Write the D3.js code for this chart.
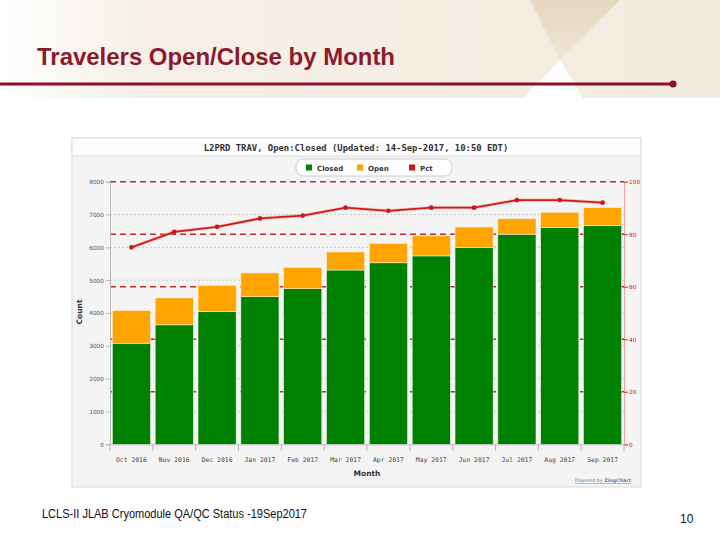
<!DOCTYPE html>
<html>
<head>
<meta charset="utf-8">
<script src="https://cdn.jsdelivr.net/npm/d3@7/dist/d3.min.js"></script>
<style>
html,body{margin:0;padding:0;background:#fff;}
svg{display:block;}
</style>
</head>
<body>
<svg id="c" width="720" height="540"></svg>
<script>
// ---- data ----
const months = ["Oct 2016","Nov 2016","Dec 2016","Jan 2017","Feb 2017","Mar 2017","Apr 2017","May 2017","Jun 2017","Jul 2017","Aug 2017","Sep 2017"];
const closed = [3080, 3640, 4040, 4500, 4740, 5310, 5530, 5740, 6000, 6400, 6610, 6660];
const open   = [1000,  820,  800,  720,  650,  550,  590,  610,  620,  470,  460,  550];
const pct    = [75.0, 80.9, 82.8, 86.0, 87.1, 90.1, 88.9, 90.1, 90.1, 93.0, 93.0, 92.0];
const countTicks = [0,1000,2000,3000,4000,5000,6000,7000,8000];
const pctTicks = [0,20,40,60,80,100];

const svg = d3.select("#c");
const defs = svg.append("defs");

// ---- slide decoration ----
const g1 = defs.append("linearGradient").attr("id","band").attr("x1","0").attr("x2","1").attr("y1","0").attr("y2","0");
g1.append("stop").attr("offset","0").attr("stop-color","#ffffff");
g1.append("stop").attr("offset","0.2").attr("stop-color","#f5efe6");
g1.append("stop").attr("offset","1").attr("stop-color","#f3ebdf");
const g2 = defs.append("linearGradient").attr("id","wedge").attr("x1","0").attr("x2","0").attr("y1","0").attr("y2","1");
g2.append("stop").attr("offset","0").attr("stop-color","#e6d8c0");
g2.append("stop").attr("offset","1").attr("stop-color","#efe5d6");

svg.append("rect").attr("x",0).attr("y",0).attr("width",720).attr("height",98).attr("fill","url(#band)");
svg.append("path").attr("d","M530,0 L620,0 L560,60 Z").attr("fill","url(#wedge)");
svg.append("path").attr("d","M560,60 L523,98 L583,98 Z").attr("fill","#ffffff");

svg.append("text").attr("x",37).attr("y",65)
  .attr("font-family","'Liberation Sans Narrow', 'Liberation Sans', Arial, sans-serif").attr("font-weight","bold")
  .attr("font-size",24).attr("fill","#8b1a2c")
  .attr("textLength",358).attr("lengthAdjust","spacingAndGlyphs")
  .text("Travelers Open/Close by Month");

svg.append("line").attr("x1",0).attr("x2",673).attr("y1",84).attr("y2",84)
  .attr("stroke","#8b0f27").attr("stroke-width",3);
svg.append("circle").attr("cx",673).attr("cy",84).attr("r",3.6).attr("fill","#8b0f27");

// footer
svg.append("text").attr("x",42).attr("y",518)
  .attr("font-family","'Liberation Sans Narrow', 'Liberation Sans', Arial, sans-serif")
  .attr("font-size",12).attr("fill","#111")
  .attr("textLength",265).attr("lengthAdjust","spacingAndGlyphs")
  .text("LCLS-II JLAB Cryomodule QA/QC Status -19Sep2017");
svg.append("text").attr("x",680).attr("y",523)
  .attr("font-family","'Liberation Sans Narrow', 'Liberation Sans', Arial, sans-serif")
  .attr("font-size",12).attr("fill","#111").text("10");

// ---- chart panel ----
svg.append("rect").attr("x",72).attr("y",138).attr("width",569).attr("height",349)
  .attr("fill","#f4f4f4").attr("stroke","#dcdcdc").attr("stroke-width",1);
svg.append("rect").attr("x",72).attr("y",138).attr("width",569).attr("height",18)
  .attr("fill","#fcfcfc").attr("stroke","#dcdcdc").attr("stroke-width",1);

svg.append("text").attr("x",356).attr("y",151).attr("text-anchor","middle")
  .attr("font-family","'DejaVu Sans Mono', monospace").attr("font-size",8.9)
  .attr("fill","#333").attr("font-weight","bold")
  .text("L2PRD TRAV, Open:Closed (Updated: 14-Sep-2017, 10:50 EDT)");

// legend
svg.append("rect").attr("x",296).attr("y",159).attr("width",156).attr("height",17).attr("rx",7)
  .attr("fill","#ffffff").attr("stroke","#cccccc").attr("stroke-width",1);
const legendItems = [
  {label:"Closed", color:"#008000", x:306},
  {label:"Open", color:"#ffa500", x:357},
  {label:"Pct", color:"#dd1111", x:409}
];
const lg = svg.append("g").selectAll("g").data(legendItems).join("g");
lg.append("rect").attr("x",d=>d.x).attr("y",164.5).attr("width",6).attr("height",6).attr("fill",d=>d.color);
lg.append("text").attr("x",d=>d.x+11).attr("y",170.5)
  .attr("font-family","'DejaVu Sans', sans-serif").attr("font-size",7).attr("font-weight","bold")
  .attr("fill","#333").text(d=>d.label);

// scales
const x = d3.scaleBand().domain(months).range([110,624]).paddingInner(0.11).paddingOuter(0.055);
const yL = d3.scaleLinear().domain([0,8000]).range([444.3,181.7]);
const yR = d3.scaleLinear().domain([0,100]).range([444.3,181.7]);

// grey dotted grid (count axis)
svg.append("g").selectAll("line").data(countTicks.filter(t=>t>0 && t<8000)).join("line")
  .attr("x1",110).attr("x2",624).attr("y1",d=>yL(d)).attr("y2",d=>yL(d))
  .attr("stroke","#c8c8c8").attr("stroke-width",1).attr("stroke-dasharray","2,2");

// red dashed grid (pct axis)
svg.append("g").selectAll("line").data(pctTicks.filter(t=>t>0)).join("line")
  .attr("x1",110).attr("x2",624).attr("y1",d=>yR(d)).attr("y2",d=>yR(d))
  .attr("stroke","#c0282d").attr("stroke-width",1.5).attr("stroke-dasharray","6,4");

// bars
const bars = svg.append("g");
bars.selectAll("rect.cl").data(months).join("rect").attr("class","cl")
  .attr("x",d=>x(d)).attr("width",x.bandwidth())
  .attr("y",(d,i)=>yL(closed[i])).attr("height",(d,i)=>yL(0)-yL(closed[i]))
  .attr("fill","#008000").attr("stroke","#e6eee6").attr("stroke-width",0.6);
bars.selectAll("rect.op").data(months).join("rect").attr("class","op")
  .attr("x",d=>x(d)).attr("width",x.bandwidth())
  .attr("y",(d,i)=>yL(closed[i]+open[i])).attr("height",(d,i)=>yL(closed[i])-yL(closed[i]+open[i]))
  .attr("fill","#ffa500").attr("stroke","#fbeed6").attr("stroke-width",0.6);

// axes
const axL = svg.append("g").attr("transform","translate(110,0)")
  .call(d3.axisLeft(yL).tickValues(countTicks).tickFormat(d3.format("d")).tickSize(4).tickPadding(2));
axL.select(".domain").attr("stroke","#bbbbbb");
axL.selectAll(".tick line").attr("stroke","#bbbbbb");
axL.selectAll("text").attr("font-family","'DejaVu Sans', sans-serif").attr("font-size",5.8).attr("fill","#555");

const axR = svg.append("g").attr("transform","translate(624,0)")
  .call(d3.axisRight(yR).tickValues(pctTicks).tickSize(4).tickPadding(1));
axR.select(".domain").attr("stroke","#e7a7a7");
axR.selectAll(".tick line").attr("stroke","#d03030");
axR.selectAll("text").attr("font-family","'DejaVu Sans', sans-serif").attr("font-size",5.8).attr("fill","#d02020");

const axB = svg.append("g").attr("transform","translate(0,444.3)")
  .call(d3.axisBottom(x).tickSize(0).tickPadding(13));
axB.select(".domain").attr("stroke","#bbbbbb");
axB.selectAll("text").attr("font-family","'DejaVu Sans Mono', monospace").attr("font-size",6.4).attr("fill","#444");
// category boundary ticks
svg.append("g").selectAll("line").data(d3.range(months.length+1)).join("line")
  .attr("x1",i=>110+i*x.step()).attr("x2",i=>110+i*x.step())
  .attr("y1",444.3).attr("y2",451).attr("stroke","#bbbbbb");

// axis titles
svg.append("text").attr("x",367).attr("y",476).attr("text-anchor","middle")
  .attr("font-family","'DejaVu Sans', sans-serif").attr("font-weight","bold").attr("font-size",7.5)
  .attr("fill","#333").text("Month");
svg.append("text").attr("transform","translate(82,312) rotate(-90)").attr("text-anchor","middle")
  .attr("font-family","'DejaVu Sans', sans-serif").attr("font-weight","bold").attr("font-size",7.5)
  .attr("fill","#333").text("Count");

// powered by
svg.append("text").attr("x",631).attr("y",482).attr("text-anchor","end")
  .attr("font-family","'DejaVu Sans', sans-serif").attr("font-size",4.8).attr("fill","#5f7fa8")
  .attr("text-decoration","underline")
  .html('Powered by <tspan font-weight="bold">ZingChart</tspan>');

// pct line
const line = d3.line().x((d,i)=>x(months[i])+x.bandwidth()/2).y(d=>yR(d));
svg.append("path").datum(pct).attr("d",line).attr("fill","none")
  .attr("stroke","#f0a0a0").attr("stroke-width",3.5).attr("opacity",0.5);
svg.append("path").datum(pct).attr("d",line).attr("fill","none")
  .attr("stroke","#d01818").attr("stroke-width",1.8);
svg.append("g").selectAll("circle").data(pct).join("circle")
  .attr("cx",(d,i)=>x(months[i])+x.bandwidth()/2).attr("cy",d=>yR(d)).attr("r",2.4)
  .attr("fill","#d01818");
</script>
</body>
</html>
